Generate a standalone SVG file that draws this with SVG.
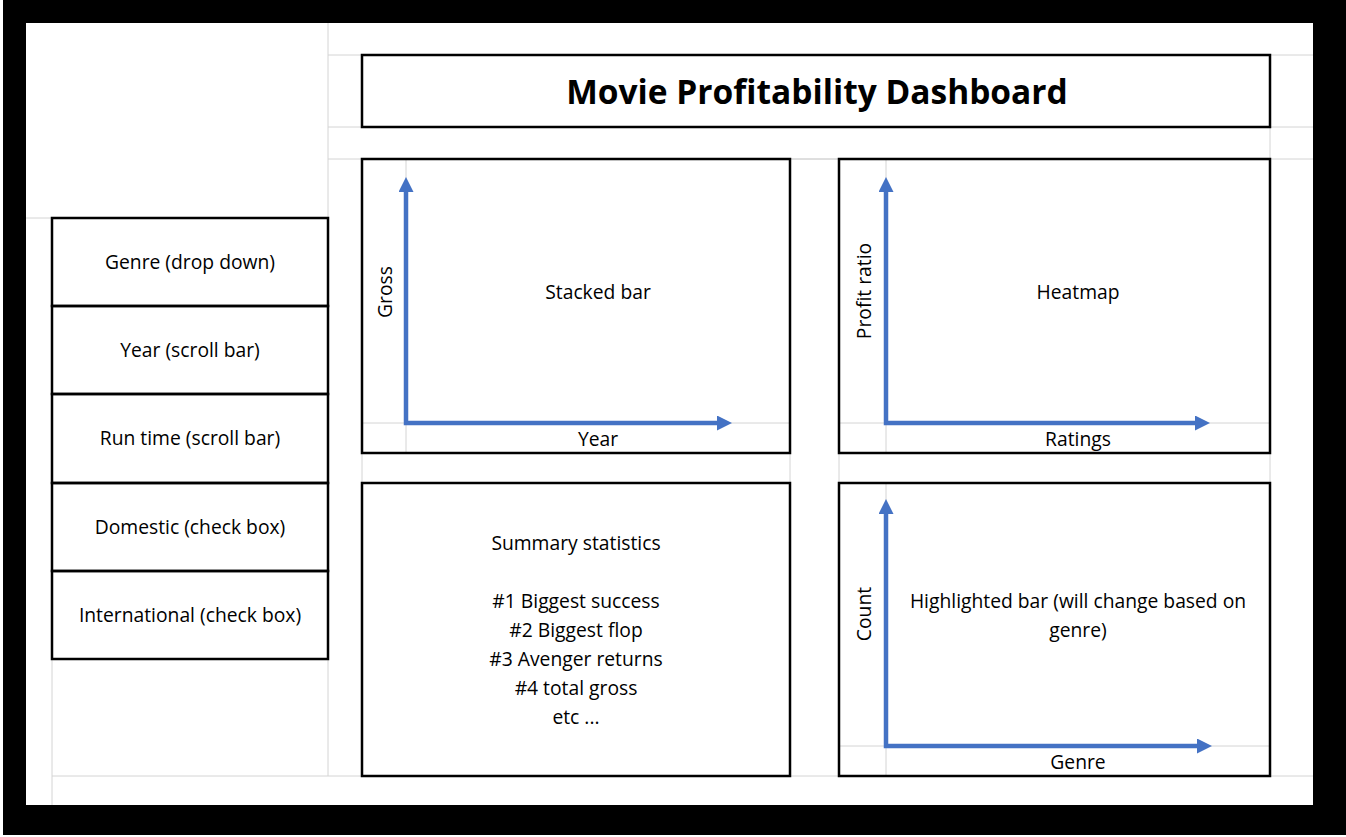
<svg xmlns="http://www.w3.org/2000/svg" width="1346" height="837" viewBox="0 0 1346 837">
<style>
.grid{stroke:#d4d4d4;stroke-width:1;fill:none}
.box{fill:none;stroke:#000;stroke-width:2.5}
.t{font-family:"Open Sans","Noto Sans","Liberation Sans",sans-serif;font-size:19.3px;fill:#000;text-anchor:middle}
.title{font-family:"Open Sans","Noto Sans","Liberation Sans",sans-serif;font-size:33.5px;font-weight:bold;fill:#000;text-anchor:middle}
.axis{fill:none;stroke:#4472C4;stroke-width:4.5;stroke-linejoin:miter}
</style>
<defs>
<marker id="ah" markerUnits="userSpaceOnUse" markerWidth="16" markerHeight="16" refX="5" refY="7.5" orient="auto-start-reverse">
<path d="M0,0 L15,7.5 L0,15 z" fill="#4472C4"/>
</marker>
</defs>
<rect x="0" y="0" width="1346" height="837" fill="#fff"/>
<rect x="3" y="0" width="1343" height="835" fill="#000"/>
<rect x="26" y="23" width="1287" height="782" fill="#fff"/>
<g id="gridlines" class="grid">
<line x1="328" y1="23" x2="328" y2="776"/>
<line x1="52" y1="659" x2="52" y2="805"/>
<line x1="26" y1="218" x2="52" y2="218"/>
<line x1="328" y1="55" x2="1313" y2="55"/>
<line x1="328" y1="127" x2="1313" y2="127"/>
<line x1="328" y1="159" x2="1313" y2="159"/>
<line x1="1270" y1="127" x2="1270" y2="159"/>
<line x1="362" y1="453" x2="362" y2="483"/>
<line x1="790" y1="453" x2="790" y2="483"/>
<line x1="839" y1="453" x2="839" y2="483"/>
<line x1="1270" y1="453" x2="1270" y2="483"/>
<line x1="790" y1="159" x2="839" y2="159"/>
<line x1="362" y1="423" x2="790" y2="423"/>
<line x1="839" y1="423" x2="1270" y2="423"/>
<line x1="839" y1="746" x2="1270" y2="746"/>
<line x1="406" y1="159" x2="406" y2="453"/>
<line x1="886" y1="159" x2="886" y2="453"/>
<line x1="886" y1="483" x2="886" y2="776"/>
<line x1="52" y1="776" x2="1313" y2="776"/>
</g>
<g id="title">
<rect class="box" x="362" y="55" width="908" height="72"/>
<text class="title" x="817" y="104">Movie Profitability Dashboard</text>
</g>
<g id="filter-genre">
<rect class="box" x="52" y="218" width="276" height="88"/>
<text class="t" x="190" y="269">Genre (drop down)</text>
</g>
<g id="filter-year">
<rect class="box" x="52" y="306" width="276" height="88"/>
<text class="t" x="190" y="357">Year (scroll bar)</text>
</g>
<g id="filter-runtime">
<rect class="box" x="52" y="394" width="276" height="89"/>
<text class="t" x="190" y="445">Run time (scroll bar)</text>
</g>
<g id="filter-domestic">
<rect class="box" x="52" y="483" width="276" height="88"/>
<text class="t" x="190" y="534">Domestic (check box)</text>
</g>
<g id="filter-international">
<rect class="box" x="52" y="571" width="276" height="88"/>
<text class="t" x="190" y="622">International (check box)</text>
</g>
<g id="chart-stacked">
<rect class="box" x="362" y="159" width="428" height="294"/>
<text class="t" x="598" y="299">Stacked bar</text>
<text class="t" x="598" y="446">Year</text>
<text class="t" transform="translate(385,292) rotate(-90)" x="0" y="6.5">Gross</text>
</g>
<g id="chart-heatmap">
<rect class="box" x="839" y="159" width="431" height="294"/>
<text class="t" x="1078" y="299">Heatmap</text>
<text class="t" x="1078" y="446">Ratings</text>
<text class="t" transform="translate(864,291) rotate(-90)" x="0" y="6.5">Profit ratio</text>
</g>
<g id="summary">
<rect class="box" x="362" y="483" width="428" height="293"/>
<text class="t" x="576" y="550">Summary statistics</text>
<text class="t" x="576" y="608">#1 Biggest success</text>
<text class="t" x="576" y="637">#2 Biggest flop</text>
<text class="t" x="576" y="666">#3 Avenger returns</text>
<text class="t" x="576" y="695">#4 total gross</text>
<text class="t" x="576" y="724">etc ...</text>
</g>
<g id="chart-highlight">
<rect class="box" x="839" y="483" width="431" height="293"/>
<text class="t" x="1078" y="608">Highlighted bar (will change based on</text>
<text class="t" x="1078" y="637">genre)</text>
<text class="t" x="1078" y="769">Genre</text>
<text class="t" transform="translate(864,614) rotate(-90)" x="0" y="6.5">Count</text>
</g>
<g id="connectors">
<path class="axis" d="M406,187 L406,423 L722,423" marker-start="url(#ah)" marker-end="url(#ah)"/>
<path class="axis" d="M886,187 L886,423 L1200,423" marker-start="url(#ah)" marker-end="url(#ah)"/>
<path class="axis" d="M886,509 L886,746 L1202,746" marker-start="url(#ah)" marker-end="url(#ah)"/>
</g>
</svg>
